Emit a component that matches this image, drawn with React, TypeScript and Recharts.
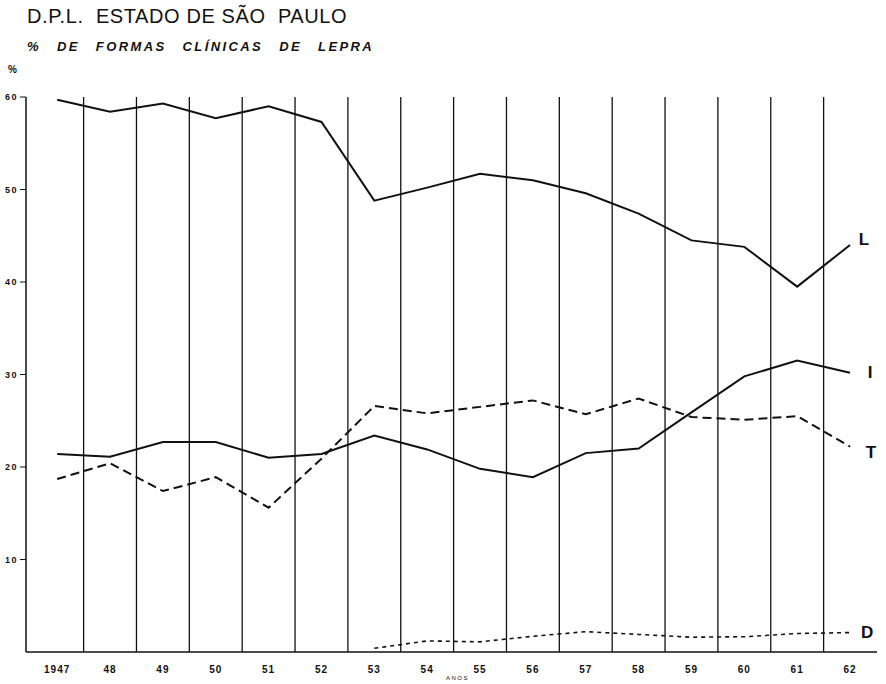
import React from "react";
import {
  LineChart,
  Line,
  XAxis,
  YAxis,
  ReferenceLine,
} from "recharts";

// Anos (eixo X)
const YEARS = ["1947", "48", "49", "50", "51", "52", "53", "54", "55", "56", "57", "58", "59", "60", "61", "62"];

// % de formas clínicas
const L_VALUES = [59.7, 58.4, 59.3, 57.7, 59.0, 57.3, 48.8, 50.2, 51.7, 51.0, 49.6, 47.4, 44.5, 43.8, 39.5, 44.0];
const I_VALUES = [21.4, 21.1, 22.7, 22.7, 21.0, 21.4, 23.4, 21.9, 19.8, 18.9, 21.5, 22.0, 25.9, 29.8, 31.5, 30.2];
const T_VALUES = [18.7, 20.4, 17.4, 18.9, 15.6, 20.9, 26.6, 25.8, 26.5, 27.2, 25.7, 27.4, 25.4, 25.1, 25.5, 22.2];
const D_VALUES = [null, null, null, null, null, null, 0.4, 1.2, 1.1, 1.7, 2.2, 1.9, 1.6, 1.65, 2.0, 2.1];

const Y_TICKS = [10, 20, 30, 40, 50, 60];

const data = YEARS.map((year, i) => ({
  x: i,
  year,
  L: L_VALUES[i],
  I: I_VALUES[i],
  T: T_VALUES[i],
  D: D_VALUES[i],
}));

// separators sit halfway between years
const separators = YEARS.slice(0, -1).map((_, i) => i + 0.5);

const INK = "#111";
const FONT = "'Liberation Sans', Arial, sans-serif";

const endLabel = (name: string, dx: number, dy: number) => (props: any) => {
  const { x, y, index } = props;
  if (index !== YEARS.length - 1) return null;
  return (
    <text
      x={x + dx}
      y={y + dy}
      fill={INK}
      fontSize={17}
      fontWeight={700}
      fontFamily={FONT}
      textAnchor="middle"
      dominantBaseline="central"
    >
      {name}
    </text>
  );
};

export default function App() {
  return (
    <div
      style={{
        position: "absolute",
        left: 0,
        top: 0,
        width: 886,
        height: 684,
        background: "#fff",
        fontFamily: FONT,
        color: INK,
      }}
    >
      <div
        style={{
          position: "absolute",
          left: 27,
          top: 5,
          fontSize: 20,
          letterSpacing: 0.6,
          whiteSpace: "nowrap",
        }}
      >
        D.P.L.&nbsp; ESTADO DE SÃO&nbsp; PAULO
      </div>
      <div
        style={{
          position: "absolute",
          left: 27,
          top: 39,
          fontSize: 13,
          fontWeight: 700,
          fontStyle: "italic",
          letterSpacing: 2.4,
          wordSpacing: 10,
          whiteSpace: "nowrap",
        }}
      >
        % DE FORMAS CLÍNICAS DE LEPRA
      </div>
      <div
        style={{
          position: "absolute",
          left: 8,
          top: 64,
          fontSize: 10,
          fontWeight: 700,
        }}
      >
        %
      </div>
      <div
        style={{
          position: "absolute",
          left: 446,
          top: 675,
          fontSize: 6,
          letterSpacing: 1.5,
        }}
      >
        ANOS
      </div>

      <LineChart
        width={886}
        height={684}
        data={data}
        margin={{ top: 97, right: 9, left: 0, bottom: 0 }}
      >
        <XAxis
          dataKey="x"
          type="number"
          domain={[-0.59, 15.51]}
          ticks={YEARS.map((_, i) => i)}
          tickFormatter={(v: number) => YEARS[v]}
          interval={0}
          height={32}
          tickLine={false}
          tickMargin={8}
          axisLine={{ stroke: INK, strokeWidth: 1.5 }}
          tick={{ fill: INK, fontSize: 10, fontWeight: 700, fontFamily: FONT, letterSpacing: 1 }}
        />
        <YAxis
          domain={[0, 60]}
          ticks={Y_TICKS}
          width={26}
          tickSize={6}
          tickMargin={2}
          axisLine={{ stroke: INK, strokeWidth: 1.5 }}
          tickLine={{ stroke: INK }}
          tick={{ fill: INK, fontSize: 9, fontWeight: 700, fontFamily: FONT, letterSpacing: 1.5 }}
        />
        <YAxis
          yAxisId="right"
          orientation="right"
          domain={[0, 60]}
          width={0}
          tick={false}
          tickLine={false}
          axisLine={{ stroke: INK, strokeWidth: 1.5 }}
        />
        {separators.map((s) => (
          <ReferenceLine key={s} x={s} stroke={INK} strokeWidth={1.3} />
        ))}
        <Line
          dataKey="L"
          stroke={INK}
          strokeWidth={2}
          dot={false}
          isAnimationActive={false}
          label={endLabel("L", 14, -6)}
        />
        <Line
          dataKey="I"
          stroke={INK}
          strokeWidth={2}
          dot={false}
          isAnimationActive={false}
          label={endLabel("I", 20, 0)}
        />
        <Line
          dataKey="T"
          stroke={INK}
          strokeWidth={2}
          strokeDasharray="9 5"
          dot={false}
          isAnimationActive={false}
          label={endLabel("T", 21, 6)}
        />
        <Line
          dataKey="D"
          stroke={INK}
          strokeWidth={1.6}
          strokeDasharray="4 4"
          dot={false}
          connectNulls={false}
          isAnimationActive={false}
          label={endLabel("D", 17, 0)}
        />
      </LineChart>
    </div>
  );
}
